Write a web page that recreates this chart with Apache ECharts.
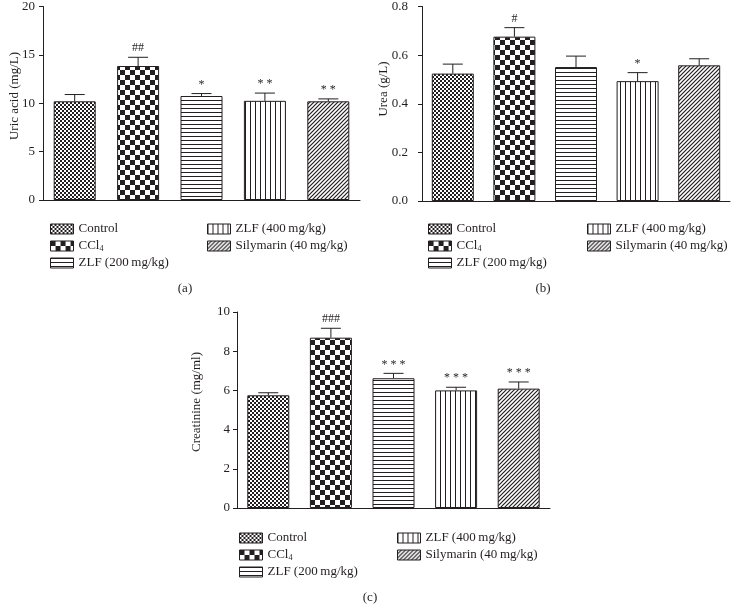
<!DOCTYPE html>
<html>
<head>
<meta charset="utf-8">
<script src="https://cdn.jsdelivr.net/npm/echarts@6/dist/echarts.min.js"></script>
<style>
  html, body { margin: 0; padding: 0; background: #fff; }
  #main { width: 740px; height: 615px; }
</style>
</head>
<body>
<div id="main"></div>
<script>
// groups and values
const groups = ['Control', 'CCl4', 'ZLF (200\u2009mg/kg)', 'ZLF (400\u2009mg/kg)', 'Silymarin (40\u2009mg/kg)']
const uricMean = [10.2, 13.85, 10.75, 10.25, 10.2]
const uricErr = [10.9, 14.75, 11.0, 11.05, 10.45]
const uricMarks = ['', '##', '*', '* *', '* *']
const ureaMean = [0.524, 0.676, 0.551, 0.493, 0.558]
const ureaErr = [0.563, 0.713, 0.596, 0.528, 0.585]
const ureaMarks = ['', '#', '', '*', '']
const creatMean = [5.75, 8.69, 6.62, 6.0, 6.09]
const creatErr = [5.88, 9.17, 6.87, 6.16, 6.43]
const creatMarks = ['', '###', '* * *', '* * *', '* * *']

const FONT = '"Liberation Serif", "DejaVu Serif", serif'
const INK = '#231f20'

// fill patterns for the bars
function tile(w, h, draw) {
  const c = document.createElement('canvas')
  c.width = w; c.height = h
  const ctx = c.getContext('2d')
  ctx.fillStyle = '#fff'
  ctx.fillRect(0, 0, w, h)
  ctx.fillStyle = INK
  ctx.strokeStyle = INK
  draw(ctx)
  return {image: c, repeat: 'repeat'}
}
function checker(s) {
  return tile(2 * s, 2 * s, ctx => {
    ctx.fillRect(0, 0, s, s)
    ctx.fillRect(s, s, s, s)
  })
}
const patterns = [
  checker(2),
  checker(5),
  tile(4, 4, ctx => ctx.fillRect(0, 0, 4, 1)),
  tile(5, 5, ctx => ctx.fillRect(0, 0, 1, 5)),
  tile(4, 4, ctx => {
    ctx.lineWidth = 1.2
    ctx.beginPath()
    ctx.moveTo(-1, 5); ctx.lineTo(5, -1)
    ctx.moveTo(-1, 1); ctx.lineTo(1, -1)
    ctx.moveTo(3, 5); ctx.lineTo(5, 3)
    ctx.stroke()
  })
]

const panels = [
  {mean: uricMean, err: uricErr, marks: uricMarks, max: 20, step: 5, dec: 0, margin: 8,
    grid: {left: 43, top: 5, width: 317, height: 195}},
  {mean: ureaMean, err: ureaErr, marks: ureaMarks, max: 0.8, step: 0.2, dec: 1, margin: 14,
    grid: {left: 422, top: 5, width: 308, height: 196}},
  {mean: creatMean, err: creatErr, marks: creatMarks, max: 10, step: 2, dec: 0, margin: 7,
    grid: {left: 237, top: 312, width: 313, height: 196}}
]

let grids = [], xAxes = [], yAxes = [], series = []
panels.forEach((p, g) => {
  grids.push(p.grid)
  xAxes.push({
    type: 'category', gridIndex: g, data: groups,
    axisLine: {lineStyle: {color: INK, width: 1}},
    axisTick: {alignWithLabel: true, length: 4, lineStyle: {color: INK}},
    axisLabel: {show: false}
  })
  yAxes.push({
    type: 'value', gridIndex: g, min: 0, max: p.max, interval: p.step,
    splitLine: {show: false},
    axisLine: {show: true, lineStyle: {color: INK, width: 1}},
    axisTick: {show: true, length: 4, lineStyle: {color: INK}},
    axisLabel: {color: INK, fontFamily: FONT, fontSize: 13, margin: p.margin,
      formatter: v => v.toFixed(p.dec)}
  })
  groups.forEach((name, i) => {
    series.push({
      name: name, type: 'bar', xAxisIndex: g, yAxisIndex: g,
      barWidth: 42, barGap: '-100%',
      itemStyle: {color: patterns[i], borderColor: INK, borderWidth: 1},
      emphasis: {disabled: true},
      data: groups.map((_, j) => j === i ? p.mean[j] : '-')
    })
  })
  series.push({
    type: 'custom', xAxisIndex: g, yAxisIndex: g, silent: true, z: 5,
    data: groups.map((_, j) => [j, p.mean[j], p.err[j]]),
    encode: {x: 0, y: 2},
    renderItem: (params, api) => {
      const j = api.value(0)
      const top = api.coord([j, api.value(1)])
      const e = api.coord([j, api.value(2)])
      return {
        type: 'group',
        children: [
          {type: 'line', shape: {x1: top[0], y1: top[1], x2: e[0], y2: e[1]},
            style: {stroke: INK, lineWidth: 1}},
          {type: 'line', shape: {x1: e[0] - 10, y1: e[1], x2: e[0] + 10, y2: e[1]},
            style: {stroke: INK, lineWidth: 1}},
          {type: 'text', x: e[0], y: e[1] - 3,
            style: {text: p.marks[j], fill: INK, font: '12px ' + FONT,
              align: 'center', verticalAlign: 'bottom'}}
        ]
      }
    }
  })
})

const legendText = {
  color: INK, fontFamily: FONT, fontSize: 13, lineHeight: 14,
  rich: {
    n: {fontFamily: FONT, fontSize: 13, color: INK, lineHeight: 14},
    s: {fontFamily: FONT, fontSize: 8, color: INK, lineHeight: 14, verticalAlign: 'bottom', padding: [3, 0, 0, 0]}
  }
}
function legend(left, top, names) {
  return {
    left: left, top: top, orient: 'vertical', itemGap: 3,
    itemWidth: 23, itemHeight: 10, icon: 'rect', selectedMode: false,
    itemStyle: {borderColor: INK, borderWidth: 1},
    textStyle: legendText,
    formatter: n => n === 'CCl4' ? '{n|CCl}{s|4}' : n,
    data: names
  }
}
const legendSpots = [[45, 202, 217], [423, 582, 217], [234, 392, 526]]
let legends = []
legendSpots.forEach(s => {
  legends.push(legend(s[0], s[2], groups.slice(0, 3)))
  legends.push(legend(s[1], s[2], groups.slice(3)))
})

const yNames = [['Uric acid (mg/L)', 15, 96], ['Urea (g/L)', 384, 89], ['Creatinine (mg/ml)', 197, 402]]
const subLabels = [['(a)', 185, 289], ['(b)', 543, 289], ['(c)', 370, 598]]
let graphics = []
yNames.forEach(t => graphics.push({
  type: 'text', x: t[1], y: t[2], rotation: Math.PI / 2,
  style: {text: t[0], fill: INK, font: '13px ' + FONT, align: 'center', verticalAlign: 'middle'}
}))
subLabels.forEach(t => graphics.push({
  type: 'text', x: t[1], y: t[2],
  style: {text: t[0], fill: INK, font: '13px ' + FONT, align: 'center', verticalAlign: 'middle'}
}))

const chart = echarts.init(document.getElementById('main'), null, {renderer: 'canvas'})
chart.setOption({
  animation: false,
  backgroundColor: '#fff',
  grid: grids,
  xAxis: xAxes,
  yAxis: yAxes,
  legend: legends,
  graphic: graphics,
  series: series
})
</script>
</body>
</html>
